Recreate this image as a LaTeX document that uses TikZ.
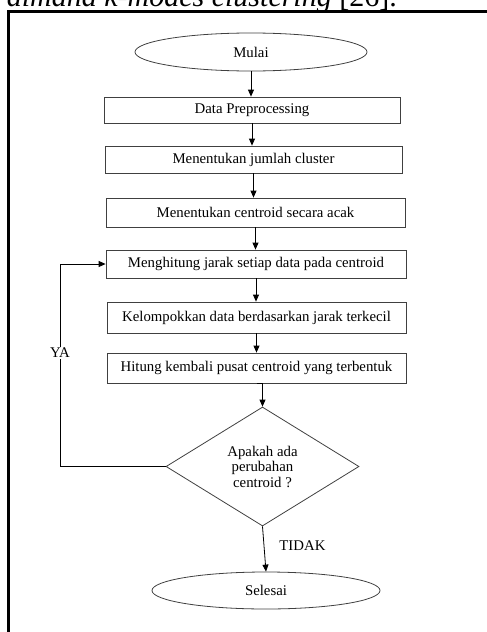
\documentclass[tikz,border=0pt]{standalone}
\usepackage{fontspec}
\setmainfont{Liberation Serif}
\usetikzlibrary{shapes.geometric,arrows.meta}
\begin{document}
\begin{tikzpicture}[x=1pt,y=-1pt,
  txt/.style={font=\fontsize{14.8}{15.5}\selectfont},
  stepbox/.style={draw=black!75, line width=0.8pt, rectangle, inner sep=0pt, txt},
  term/.style={draw=black!75, line width=0.8pt, ellipse, inner sep=0pt, txt},
  dec/.style={draw=black!75, line width=0.8pt, diamond, aspect=1.6, inner sep=0pt, align=center, txt},
  arr/.style={draw=black, line width=0.8pt, -{Triangle[length=7pt,width=6pt]}},
  lab/.style={txt, inner sep=1pt}]
\useasboundingbox (0,0) rectangle (487,632);
\clip (0,0) rectangle (487,632);
% cropped heading text above the frame
\node[anchor=base east, font=\fontsize{30}{36}\selectfont, inner sep=0pt] (head) at (397,6) {\textit{dimana k-modes clustering} [26].};
% frame
\draw[line width=3pt] (8,700) -- (8,11) -- (520,11);
% nodes
\node[term, minimum width=232pt, minimum height=38pt] (mulai) at (251,52) {Mulai};
\node[stepbox, minimum width=296pt, minimum height=26pt] (dp) at (252,110) {Data Preprocessing};
\node[stepbox, minimum width=297pt, minimum height=27pt] (jc) at (253.5,159.5) {Menentukan jumlah cluster};
\node[stepbox, minimum width=299pt, minimum height=29pt] (ca) at (255.5,212.5) {Menentukan centroid secara acak};
\node[stepbox, minimum width=300pt, minimum height=28pt] (mh) at (256,264) {Menghitung jarak setiap data pada centroid};
\node[stepbox, minimum width=299pt, minimum height=31pt] (kd) at (256.5,317.5) {Kelompokkan data berdasarkan jarak terkecil};
\node[stepbox, minimum width=299pt, minimum height=30pt] (hk) at (256.5,368) {Hitung kembali pusat centroid yang terbentuk};
\node[dec, minimum width=193pt, minimum height=119pt] (dc) at (262.5,466.5) {Apakah ada\\perubahan\\centroid ?};
\node[term, minimum width=228pt, minimum height=37pt] (sel) at (266,590.5) {Selesai};
\coordinate (lp) at (60,264);
% connectors
\draw[arr] (mulai.south) -- (mulai.south |- dp.north);
\draw[arr] (dp.south) -- (dp.south |- jc.north);
\draw[arr] (jc.south) -- (jc.south |- ca.north);
\draw[arr] (ca.south) -- (ca.south |- mh.north);
\draw[arr] (mh.south) -- (mh.south |- kd.north);
\draw[arr] (kd.south) -- (kd.south |- hk.north);
\draw[arr] (hk.south) -- (hk.south -| dc.north) -- (dc.north);
\draw[arr] (dc.south) -- node[lab, pos=0.43, anchor=west, xshift=14pt] (tidak) {TIDAK} (sel.north);
\draw[arr] (dc.west) -| node[lab, pos=0.78, fill=white] (ya) {YA} (lp) -- (mh.west);
\end{tikzpicture}
\end{document}
